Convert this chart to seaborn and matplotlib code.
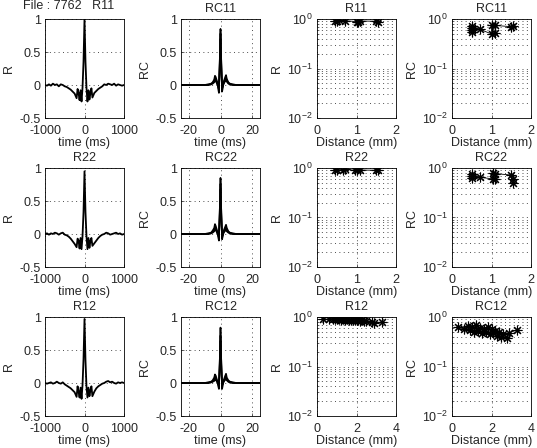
import numpy as np
import pandas as pd
import matplotlib
matplotlib.use("Agg")
import matplotlib.pyplot as plt
import seaborn as sns

# --- autocorrelogram (column 1), lag in ms ---
r_lag = [-1000, -950, -900, -850, -800, -750, -700, -650, -600, -550, -500, -450,
         -400, -350, -300, -250, -200, -175, -150, -125, -100, -75, -50, -25, 0,
         25, 50, 75, 100, 125, 150, 175, 200, 250, 300, 350, 400, 450, 500, 550,
         600, 650, 700, 750, 800, 850, 900, 950, 1000]
r11 = [0.00, -0.01, 0.01, -0.01, 0.02, 0.00, 0.01, -0.02, 0.01, 0.00, -0.02, -0.03,
       -0.05, -0.07, -0.10, -0.13, -0.20, -0.06, -0.12, -0.23, -0.08, -0.25, -0.04, 0.35, 1.0,
       0.35, -0.04, -0.25, -0.08, -0.22, -0.12, -0.05, -0.19, -0.12, -0.09, -0.06, -0.04, -0.02, 0.01, 0.00,
       0.02, 0.01, 0.00, 0.02, -0.01, 0.01, 0.00, -0.01, 0.00]
r22 = [0.00, 0.01, -0.01, 0.01, 0.00, 0.02, 0.01, -0.01, 0.01, 0.02, -0.01, -0.02,
       -0.04, -0.07, -0.11, -0.15, -0.20, -0.07, -0.10, -0.22, -0.06, -0.23, -0.03, 0.33, 0.95,
       0.33, -0.03, -0.23, -0.06, -0.21, -0.10, -0.06, -0.18, -0.14, -0.10, -0.06, -0.03, -0.01, 0.00, 0.02,
       0.01, -0.01, 0.00, 0.01, 0.02, 0.00, 0.01, -0.01, 0.00]
r12 = [0.00, -0.01, 0.00, 0.01, -0.01, 0.00, 0.02, 0.00, -0.01, 0.01, -0.02, -0.04,
       -0.06, -0.08, -0.11, -0.14, -0.21, -0.05, -0.13, -0.22, -0.07, -0.24, -0.03, 0.36, 0.97,
       0.34, -0.05, -0.22, -0.07, -0.20, -0.11, -0.05, -0.20, -0.13, -0.08, -0.05, -0.03, -0.01, 0.00, 0.02,
       0.03, 0.01, 0.02, 0.00, -0.01, 0.01, 0.00, 0.01, 0.00]

# --- cross-correlogram of cells (column 2), lag in ms ---
rc_lag = [-25, -20, -15, -10, -8, -6, -5, -4, -3.5, -3, -2, -1.5, -1, -0.5, 0,
          0.5, 1, 1.5, 2, 3, 3.5, 4, 5, 6, 8, 10, 15, 20, 25]
rc11_a = [0.00, 0.00, 0.00, 0.00, 0.01, 0.02, 0.04, 0.08, 0.14, 0.12, 0.04, -0.05, -0.12, 0.30, 0.85,
          0.30, -0.10, -0.04, 0.05, 0.12, 0.15, 0.09, 0.04, 0.02, 0.01, 0.00, 0.00, 0.00, 0.00]
rc11_b = [0.00, 0.00, 0.00, 0.00, 0.00, 0.01, 0.03, 0.06, 0.10, 0.09, 0.02, -0.03, -0.06, 0.25, 0.78,
          0.25, -0.05, -0.02, 0.03, 0.09, 0.11, 0.07, 0.03, 0.01, 0.00, 0.00, 0.00, 0.00, 0.00]
rc11_c = [0.00, 0.00, 0.00, 0.00, 0.00, 0.01, 0.02, 0.04, 0.07, 0.06, 0.01, -0.01, -0.02, 0.35, 0.70,
          0.35, -0.02, -0.01, 0.02, 0.06, 0.08, 0.05, 0.02, 0.01, 0.00, 0.00, 0.00, 0.00, 0.00]
rc22_a = [0.00, 0.00, 0.00, 0.00, 0.01, 0.02, 0.05, 0.09, 0.15, 0.12, 0.04, -0.04, -0.10, 0.30, 0.85,
          0.30, -0.08, -0.03, 0.05, 0.11, 0.14, 0.09, 0.04, 0.02, 0.01, 0.00, 0.00, 0.00, 0.00]
rc22_b = [0.00, 0.00, 0.00, 0.00, 0.00, 0.01, 0.03, 0.06, 0.10, 0.08, 0.02, -0.02, -0.05, 0.24, 0.76,
          0.24, -0.04, -0.01, 0.03, 0.08, 0.10, 0.06, 0.03, 0.01, 0.00, 0.00, 0.00, 0.00, 0.00]
rc22_c = [0.00, 0.00, 0.00, 0.00, 0.00, 0.01, 0.02, 0.04, 0.07, 0.06, 0.01, -0.01, -0.02, 0.34, 0.68,
          0.34, -0.02, -0.01, 0.02, 0.05, 0.07, 0.04, 0.02, 0.01, 0.00, 0.00, 0.00, 0.00, 0.00]
rc12_a = [0.00, 0.00, 0.00, 0.00, 0.01, 0.02, 0.04, 0.08, 0.13, 0.11, 0.03, -0.04, -0.09, 0.28, 0.84,
          0.29, -0.09, -0.03, 0.04, 0.11, 0.14, 0.08, 0.04, 0.02, 0.01, 0.00, 0.00, 0.00, 0.00]
rc12_b = [0.00, 0.00, 0.00, 0.00, 0.00, 0.01, 0.02, 0.05, 0.09, 0.07, 0.02, -0.02, -0.04, 0.22, 0.72,
          0.22, -0.03, -0.01, 0.03, 0.07, 0.09, 0.05, 0.02, 0.01, 0.00, 0.00, 0.00, 0.00, 0.00]
rc12_c = [0.00, 0.00, 0.00, 0.00, 0.00, 0.01, 0.02, 0.03, 0.06, 0.05, 0.01, -0.01, -0.02, 0.32, 0.64,
          0.32, -0.02, -0.01, 0.02, 0.05, 0.06, 0.04, 0.02, 0.01, 0.00, 0.00, 0.00, 0.00, 0.00]

# --- peak value vs. distance between electrodes (columns 3 and 4) ---
d11 = [0.46, 0.5, 0.55, 0.7, 1.0, 1.05, 1.1, 1.5, 1.55]
r11_peak = [0.93, 0.91, 0.94, 0.92, 0.89, 0.87, 0.91, 0.90, 0.89]
rc11_d = [0.5, 0.5, 0.5, 0.5, 0.7, 1.0, 1.0, 1.1, 1.1, 1.5, 1.55]
rc11_peak = [0.72, 0.66, 0.60, 0.55, 0.62, 0.76, 0.50, 0.74, 0.52, 0.70, 0.72]

d22 = [0.46, 0.5, 0.66, 0.7, 0.96, 1.0, 1.09, 1.5, 1.55]
r22_peak = [0.93, 0.91, 0.92, 0.94, 0.90, 0.93, 0.91, 0.90, 0.91]
rc22_d = [0.5, 0.5, 0.5, 0.7, 1.05, 1.05, 1.1, 1.1, 1.5, 1.55, 1.55]
rc22_peak = [0.76, 0.62, 0.70, 0.65, 0.78, 0.60, 0.77, 0.61, 0.72, 0.60, 0.50]

d12 = [0.3, 0.6, 0.8, 0.9, 1.0, 1.1, 1.2, 1.3, 1.4, 1.5, 1.6, 1.7, 1.8, 1.9, 2.0,
       2.1, 2.2, 2.3, 2.4, 2.5, 2.8, 2.9, 3.3]
r12_peak = [0.90, 0.91, 0.92, 0.91, 0.90, 0.92, 0.89, 0.91, 0.88, 0.90, 0.87, 0.89, 0.86, 0.88, 0.85,
            0.87, 0.84, 0.85, 0.82, 0.83, 0.79, 0.77, 0.79]
rc12_d = [0.3, 0.6, 0.8, 0.9, 1.0, 1.1, 1.2, 1.3, 1.4, 1.5, 1.6, 1.7, 1.8, 1.9, 2.0,
          2.1, 2.2, 2.3, 2.4, 2.5, 2.6, 2.8, 2.9, 3.3]
rc12_peak = [0.62, 0.58, 0.66, 0.55, 0.62, 0.50, 0.68, 0.52, 0.60, 0.48, 0.58, 0.50, 0.64, 0.45, 0.56,
             0.48, 0.52, 0.42, 0.50, 0.40, 0.46, 0.38, 0.48, 0.55]

rows = [
    dict(pair="11", r=r11, rc=[rc11_a, rc11_b, rc11_c], d=d11, rp=r11_peak, dc=rc11_d, rcp=rc11_peak, dmax=2),
    dict(pair="22", r=r22, rc=[rc22_a, rc22_b, rc22_c], d=d22, rp=r22_peak, dc=rc22_d, rcp=rc22_peak, dmax=2),
    dict(pair="12", r=r12, rc=[rc12_a, rc12_b, rc12_c], d=d12, rp=r12_peak, dc=rc12_d, rcp=rc12_peak, dmax=4),
]

FS = 9

sns.set_style("ticks")
plt.rcParams["font.family"] = ["Liberation Sans", "DejaVu Sans"]
plt.rcParams["font.size"] = FS
plt.rcParams["mathtext.fontset"] = "custom"
plt.rcParams["mathtext.rm"] = "Liberation Sans"
plt.rcParams["mathtext.it"] = "Liberation Sans"
plt.rcParams["xtick.direction"] = "in"
plt.rcParams["ytick.direction"] = "in"
plt.rcParams["axes.linewidth"] = 0.6
plt.rcParams["axes.edgecolor"] = "black"

fig = plt.figure(figsize=(5.37, 4.48), dpi=100)

lefts = [45, 181, 317, 452]
tops = [19, 168, 317]
W, H = 79, 99

# MATLAB style dotted grid
grid_kw = dict(linestyle=(0, (1, 3.5)), color="0.3", linewidth=0.7)


def style_axes(ax):
    ax.grid(True, which="major", **grid_kw)
    ax.tick_params(axis="x", length=2.5, width=0.5, labelsize=FS, pad=5)
    ax.tick_params(axis="y", length=2.5, width=0.5, labelsize=FS, pad=3)
    for s in ax.spines.values():
        s.set_visible(True)


for i, row in enumerate(rows):
    y0 = 1 - (tops[i] + H) / 448
    axes = [fig.add_axes([l / 537, y0, W / 537, H / 448]) for l in lefts]

    # column 1 : autocorrelogram
    ax = axes[0]
    df = pd.DataFrame({"t": r_lag, "v": row["r"]})
    sns.lineplot(data=df, x="t", y="v", ax=ax, color="black", linewidth=1.3,
                 estimator=None, sort=False)
    ax.set_xlim(-1000, 1000)
    ax.set_ylim(-0.5, 1)
    ax.set_xticks([-1000, 0, 1000])
    ax.set_yticks([-0.5, 0, 0.5, 1])
    ax.set_yticklabels(["-0.5", "0", "0.5", "1"])
    ax.set_xticklabels(["-1000", "0", "1000"])
    ax.set_xlabel("time (ms)", labelpad=0)
    ax.set_ylabel("R", labelpad=3)
    if i == 0:
        ax.set_title("File : 7762   R11", fontsize=FS, pad=7, x=0.3)
    else:
        ax.set_title("R" + row["pair"], fontsize=FS, pad=5)
    style_axes(ax)

    # column 2 : cross-correlogram
    ax = axes[1]
    for series in row["rc"]:
        df = pd.DataFrame({"t": rc_lag, "v": series})
        sns.lineplot(data=df, x="t", y="v", ax=ax, color="black", linewidth=1.2,
                     estimator=None, sort=False)
    ax.set_xlim(-25, 25)
    ax.set_ylim(-0.5, 1)
    ax.set_xticks([-20, 0, 20])
    ax.set_xticklabels(["-20", "0", "20"])
    ax.set_yticks([-0.5, 0, 0.5, 1])
    ax.set_yticklabels(["-0.5", "0", "0.5", "1"])
    ax.set_xlabel("time (ms)", labelpad=0)
    ax.set_ylabel("RC", labelpad=3)
    ax.set_title("RC" + row["pair"], fontsize=FS, pad=5)
    style_axes(ax)

    # columns 3 and 4 : peak vs distance
    for ax, x, y, name in [(axes[2], row["d"], row["rp"], "R"),
                           (axes[3], row["dc"], row["rcp"], "RC")]:
        df = pd.DataFrame({"d": x, "p": y})
        sns.lineplot(data=df, x="d", y="p", ax=ax, color="black", linewidth=0.6,
                     marker=(8, 2, 0), markersize=7, markeredgecolor="black",
                     markeredgewidth=0.8, estimator=None, sort=True)
        ax.set_yscale("log")
        ax.set_ylim(0.01, 1)
        ax.set_xlim(0, row["dmax"])
        ax.set_xticks([0, row["dmax"] / 2, row["dmax"]])
        ax.set_xticklabels([str(int(v)) for v in [0, row["dmax"] / 2, row["dmax"]]])
        ax.set_yticks([0.01, 0.1, 1])
        ax.set_yticklabels([r"$10^{-2}$", r"$10^{-1}$", r"$10^{0}$"])
        ax.set_xlabel("Distance (mm)", labelpad=0)
        ax.set_ylabel(name, labelpad=3)
        ax.set_title(name + row["pair"], fontsize=FS, pad=5)
        style_axes(ax)
        ax.grid(True, which="minor", axis="y", **grid_kw)
        ax.tick_params(which="minor", length=1.5, width=0.4)

fig.savefig("out.png", dpi=100)
